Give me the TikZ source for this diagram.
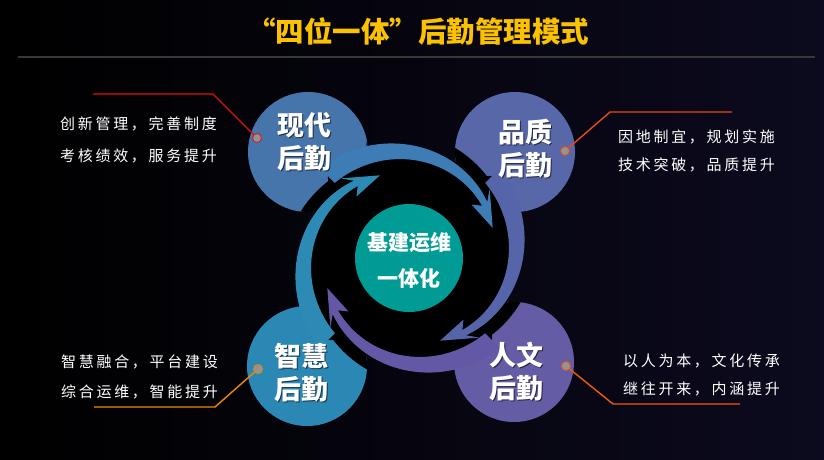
\documentclass[tikz,border=0pt]{standalone}
\usepackage{fontspec}
\newfontfamily\cjk{Noto Sans CJK SC}
\newfontfamily\cjkspaced{Noto Sans CJK SC}[LetterSpace=18]
\definecolor{bgnavy}{RGB}{12,10,30}
\definecolor{titley}{RGB}{250,194,0}
\definecolor{xdc}{RGB}{70,117,171}
\definecolor{xdt}{RGB}{61,124,181}
\definecolor{pzc}{RGB}{87,103,168}
\definecolor{pzt}{RGB}{86,100,170}
\definecolor{rwc}{RGB}{101,92,166}
\definecolor{rwt}{RGB}{99,88,166}
\definecolor{zhc}{RGB}{43,135,179}
\definecolor{zht}{RGB}{44,138,181}
\definecolor{tealc}{RGB}{0,155,149}
\definecolor{lred}{RGB}{224,16,16}
\definecolor{lorr}{RGB}{232,74,26}
\definecolor{lora}{RGB}{240,138,0}
\definecolor{lorb}{RGB}{240,90,16}
\newcommand\tailpath[2]{%
 plot[domain=#2:36,samples=50,variable=\t] ({410+(103+(\t-59)*0.325)*cos(\t+#1)},{258-(103+(\t-59)*0.325)*sin(\t+#1)})
 -- ({410+105.5*cos(41+#1)},{258-105.5*sin(41+#1)})
 -- ({410+88*cos(20+#1)},{258-88*sin(20+#1)})
 -- ({410+81.5*cos(41+#1)},{258-81.5*sin(41+#1)})
 -- plot[domain=36:#2,samples=50,variable=\t] ({410+(93+(\t-59)*0.175)*cos(\t+#1)},{258-(93+(\t-59)*0.175)*sin(\t+#1)})
 -- cycle}
\tikzset{
 circlab/.style={text=white, font=\cjk\bfseries\fontsize{27}{33}\selectfont, align=center, inner sep=0},
 circshadow/.style={circlab, text=black, opacity=0.6},
 centlab/.style={text=white, font=\cjk\bfseries\fontsize{21}{36}\selectfont, align=center, inner sep=0},
 sidetxt/.style={text=white, font=\cjkspaced\fontsize{15}{18}\selectfont, anchor=west, inner sep=0},
 dotmark/.style={circle, fill=gray!85, draw=#1, line width=0.8pt, minimum size=9pt, inner sep=0},
 conn/.style={draw=#1, line width=1.4pt},
 halo/.style={fill=black, draw=black, line width=26pt, line join=round},
}
\begin{document}
\begin{tikzpicture}[x=1pt,y=-1pt]
\useasboundingbox (0,0) rectangle (824,459);
\shade[left color=black, right color=bgnavy] (0,0) rectangle (824,459);
% title
\node[text=titley, font=\cjk\bfseries\fontsize{28.5}{34}\selectfont, inner sep=0] (title) at (418,31) {“四位一体”后勤管理模式};
\coordinate (rulel) at (18,57);
\coordinate (ruler) at (815,57);
\draw[color=black!78!white, line width=2pt] (rulel) -- (ruler);
% big circles
\fill[xdc] (308,152) circle[radius=60pt];
\fill[pzc] (515,152) circle[radius=60pt];
\fill[rwc] (514,362) circle[radius=60pt];
\fill[zhc] (307,366) circle[radius=60pt];
% black core and halos
\fill[black] (410,258) circle[radius=100pt];
\begin{scope}
\clip (308,152) circle[radius=60pt] (515,152) circle[radius=60pt]
      (514,362) circle[radius=60pt] (307,366) circle[radius=60pt]
      (410,258) circle[radius=106pt];
\path[halo] \tailpath{0}{105};
\path[halo] \tailpath{-90}{105};
\path[halo] \tailpath{-180}{105};
\path[halo] \tailpath{90}{105};
\end{scope}
% tails (arrows)
\fill[xdt] \tailpath{0}{135};
\fill[pzt] \tailpath{-90}{135};
\fill[rwt] \tailpath{-180}{135};
\fill[zht] \tailpath{90}{135};
% centre
\fill[tealc] (409,258) circle[radius=54pt];
\node[centlab] (centre) at (409,260) {基建运维\\一体化};
% circle labels
\node[circshadow] (xds) at (305.5,143) {现代\\后勤};
\node[circlab] (xd) at (304,141.5) {现代\\后勤};
\node[circshadow] (pzs) at (526.5,150) {品质\\后勤};
\node[circlab] (pz) at (525,148.5) {品质\\后勤};
\node[circshadow] (rws) at (517.5,373) {人文\\后勤};
\node[circlab] (rw) at (516,371.5) {人文\\后勤};
\node[circshadow] (zhs) at (302.5,374) {智慧\\后勤};
\node[circlab] (zh) at (301,372.5) {智慧\\后勤};
% side texts
\node[sidetxt] (t1a) at (60,124) {创新管理，完善制度};
\node[sidetxt] (t1b) at (60,156) {考核绩效，服务提升};
\node[sidetxt] (t2a) at (618,137) {因地制宜，规划实施};
\node[sidetxt] (t2b) at (618,165) {技术突破，品质提升};
\node[sidetxt] (t3a) at (61,362) {智慧融合，平台建设};
\node[sidetxt] (t3b) at (61,392) {综合运维，智能提升};
\node[sidetxt] (t4a) at (623,361) {以人为本，文化传承};
\node[sidetxt] (t4b) at (623,389) {继往开来，内涵提升};
% connectors
\node[dotmark=lred] (m1) at (257,138) {};
\coordinate (a1) at (93,94);
\coordinate (b1) at (213,94);
\draw[conn=lred] (a1) -- (b1) -- (m1);
\node[dotmark=lorr] (m2) at (565,151) {};
\coordinate (a2) at (732,112);
\coordinate (b2) at (610,112);
\draw[conn=lorr] (m2) -- (b2) -- (a2);
\node[dotmark=lora] (m3) at (258,369) {};
\coordinate (a3) at (94,407);
\coordinate (b3) at (215,407);
\draw[conn=lora] (a3) -- (b3) -- (m3);
\node[dotmark=lorb] (m4) at (566,366) {};
\coordinate (a4) at (740,404);
\coordinate (b4) at (613,404);
\draw[conn=lorb] (m4) -- (b4) -- (a4);
\end{tikzpicture}
\end{document}
